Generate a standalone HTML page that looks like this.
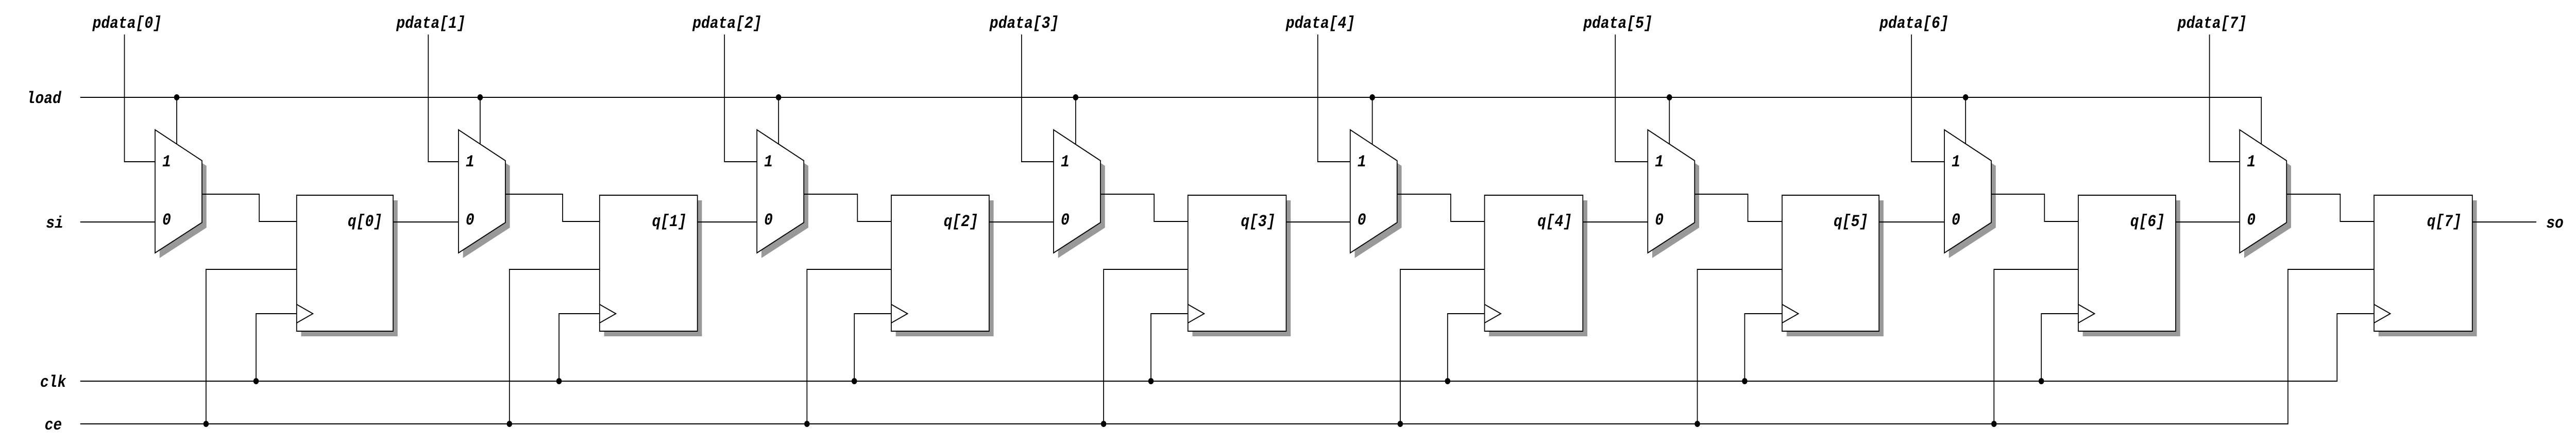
<!DOCTYPE html>
<html><head><meta charset="utf-8"><style>
html,body{margin:0;padding:0;background:#fff;width:100%;height:100%;overflow:hidden;}
svg{display:block;width:100vw;height:100vh;}
text{font-family:"Liberation Mono","DejaVu Sans Mono",monospace;font-weight:bold;font-style:italic;font-size:32px;fill:#000;}
</style></head><body>
<svg viewBox="0 0 5714 864" preserveAspectRatio="none" xmlns="http://www.w3.org/2000/svg">
<g fill="#999" stroke="none">
<polygon points="354,262 458,322 458,442 354,501"/><rect x="668" y="389" width="214" height="264"/>
<polygon points="1027,262 1131,322 1131,442 1027,501"/><rect x="1340" y="389" width="217" height="264"/>
<polygon points="1689,262 1793,322 1793,442 1689,501"/><rect x="1987" y="389" width="217" height="264"/>
<polygon points="2347,262 2451,322 2451,442 2347,501"/><rect x="2645" y="389" width="218" height="264"/>
<polygon points="3005,262 3109,322 3109,442 3005,501"/><rect x="3303" y="389" width="218" height="264"/>
<polygon points="3665,262 3769,322 3769,442 3665,501"/><rect x="3963" y="389" width="215" height="264"/>
<polygon points="4323,262 4427,322 4427,442 4323,501"/><rect x="4620" y="389" width="216" height="264"/>
<polygon points="4978,262 5082,322 5082,442 4978,501"/><rect x="5276" y="389" width="218" height="264"/>
</g>
<g fill="#fff" stroke="#000" stroke-width="2">
<polygon points="344,252 448,312 448,432 344,491"/><rect x="658" y="379" width="214" height="264"/>
<polygon points="1017,252 1121,312 1121,432 1017,491"/><rect x="1330" y="379" width="217" height="264"/>
<polygon points="1679,252 1783,312 1783,432 1679,491"/><rect x="1977" y="379" width="217" height="264"/>
<polygon points="2337,252 2441,312 2441,432 2337,491"/><rect x="2635" y="379" width="218" height="264"/>
<polygon points="2995,252 3099,312 3099,432 2995,491"/><rect x="3293" y="379" width="218" height="264"/>
<polygon points="3655,252 3759,312 3759,432 3655,491"/><rect x="3953" y="379" width="215" height="264"/>
<polygon points="4313,252 4417,312 4417,432 4313,491"/><rect x="4610" y="379" width="216" height="264"/>
<polygon points="4968,252 5072,312 5072,432 4968,491"/><rect x="5266" y="379" width="218" height="264"/>
</g>
<g fill="none" stroke="#000" stroke-width="2">
<path d="M178,189 H5016 V280"/>
<path d="M178,431 H344"/>
<path d="M178,740 H5184 V609 H5266"/>
<path d="M178,823 H5075 V523 H5266"/>
<path d="M276,67 V314 H344"/><path d="M392,189 V280"/><path d="M448,377 H575 V430 H658"/><path d="M872,431 H1017"/><path d="M457,823 V523 H658"/><path d="M568,740 V609 H658"/><path d="M658,591 L694,609 L658,627"/>
<path d="M950,67 V314 H1017"/><path d="M1065,189 V280"/><path d="M1121,377 H1248 V430 H1330"/><path d="M1547,431 H1679"/><path d="M1130,823 V523 H1330"/><path d="M1240,740 V609 H1330"/><path d="M1330,591 L1366,609 L1330,627"/>
<path d="M1607,67 V314 H1679"/><path d="M1727,189 V280"/><path d="M1783,377 H1902 V430 H1977"/><path d="M2194,431 H2337"/><path d="M1790,823 V523 H1977"/><path d="M1895,740 V609 H1977"/><path d="M1977,591 L2013,609 L1977,627"/>
<path d="M2266,67 V314 H2337"/><path d="M2386,189 V280"/><path d="M2441,377 H2560 V430 H2635"/><path d="M2853,431 H2995"/><path d="M2448,823 V523 H2635"/><path d="M2553,740 V609 H2635"/><path d="M2635,591 L2671,609 L2635,627"/>
<path d="M2923,67 V314 H2995"/><path d="M3044,189 V280"/><path d="M3099,377 H3218 V430 H3293"/><path d="M3511,431 H3655"/><path d="M3106,823 V523 H3293"/><path d="M3211,740 V609 H3293"/><path d="M3293,591 L3329,609 L3293,627"/>
<path d="M3583,67 V314 H3655"/><path d="M3703,189 V280"/><path d="M3759,377 H3877 V430 H3953"/><path d="M4168,431 H4313"/><path d="M3765,823 V523 H3953"/><path d="M3870,740 V609 H3953"/><path d="M3953,591 L3989,609 L3953,627"/>
<path d="M4240,67 V314 H4313"/><path d="M4360,189 V280"/><path d="M4417,377 H4535 V430 H4610"/><path d="M4826,431 H4968"/><path d="M4423,823 V523 H4610"/><path d="M4528,740 V609 H4610"/><path d="M4610,591 L4646,609 L4610,627"/>
<path d="M4901,67 V314 H4968"/><path d="M5072,377 H5191 V430 H5266"/><path d="M5484,431 H5626"/><path d="M5266,591 L5302,609 L5266,627"/>
</g>
<g fill="#000">
<circle cx="392" cy="189" r="6"/><circle cx="1065" cy="189" r="6"/><circle cx="1727" cy="189" r="6"/><circle cx="2386" cy="189" r="6"/><circle cx="3044" cy="189" r="6"/><circle cx="3703" cy="189" r="6"/><circle cx="4360" cy="189" r="6"/>
<circle cx="568" cy="740" r="6"/><circle cx="1240" cy="740" r="6"/><circle cx="1895" cy="740" r="6"/><circle cx="2553" cy="740" r="6"/><circle cx="3211" cy="740" r="6"/><circle cx="3870" cy="740" r="6"/><circle cx="4528" cy="740" r="6"/>
<circle cx="457" cy="823" r="6"/><circle cx="1130" cy="823" r="6"/><circle cx="1790" cy="823" r="6"/><circle cx="2448" cy="823" r="6"/><circle cx="3106" cy="823" r="6"/><circle cx="3765" cy="823" r="6"/><circle cx="4423" cy="823" r="6"/>
</g>
<g>
<text x="59" y="200">load</text>
<text x="102" y="442">si</text>
<text x="89" y="751">clk</text>
<text x="99" y="834">ce</text>
<text x="5648" y="442">so</text>
</g>
<g text-anchor="middle">
<text x="282" y="54">pdata[0]</text>
<text x="956" y="54">pdata[1]</text>
<text x="1613" y="54">pdata[2]</text>
<text x="2272" y="54">pdata[3]</text>
<text x="2929" y="54">pdata[4]</text>
<text x="3589" y="54">pdata[5]</text>
<text x="4246" y="54">pdata[6]</text>
<text x="4907" y="54">pdata[7]</text>
</g>
<g>
<text x="360" y="323">1</text><text x="360" y="436">0</text>
<text x="1033" y="323">1</text><text x="1033" y="436">0</text>
<text x="1695" y="323">1</text><text x="1695" y="436">0</text>
<text x="2353" y="323">1</text><text x="2353" y="436">0</text>
<text x="3011" y="323">1</text><text x="3011" y="436">0</text>
<text x="3671" y="323">1</text><text x="3671" y="436">0</text>
<text x="4329" y="323">1</text><text x="4329" y="436">0</text>
<text x="4984" y="323">1</text><text x="4984" y="436">0</text>
</g>
<g text-anchor="end">
<text x="848" y="439">q[0]</text>
<text x="1523" y="439">q[1]</text>
<text x="2170" y="439">q[2]</text>
<text x="2829" y="439">q[3]</text>
<text x="3487" y="439">q[4]</text>
<text x="4144" y="439">q[5]</text>
<text x="4802" y="439">q[6]</text>
<text x="5460" y="439">q[7]</text>
</g>
</svg>
</body></html>
